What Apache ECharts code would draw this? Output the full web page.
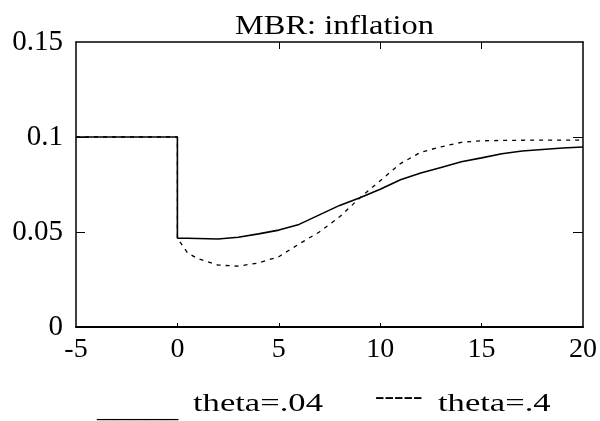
<!DOCTYPE html>
<html>
<head>
<meta charset="utf-8">
<script src="https://cdn.jsdelivr.net/npm/echarts@6/dist/echarts.min.js"></script>
<style>
  html, body { margin: 0; padding: 0; background: #fff; }
  #chart { width: 600px; height: 421px; }
</style>
</head>
<body>
<div id="chart"></div>
<script>
// Time axis (quarters after the policy change); 0 appears twice for the jump
const periods = [-5, -4, -3, -2, -1, 0, 0, 0.5, 1, 2, 3, 4, 5, 6, 7, 8, 9, 10, 11, 12, 13, 14, 15, 16, 17, 18, 19, 20];

// Inflation path, theta = .04
const inflationLow = [0.1, 0.1, 0.1, 0.1, 0.1, 0.1, 0.0468, 0.0467, 0.0466, 0.0463, 0.0472, 0.049, 0.051, 0.054, 0.059, 0.064, 0.068, 0.0725, 0.0775, 0.081, 0.084, 0.087, 0.089, 0.0912, 0.0926, 0.0934, 0.0942, 0.0947];

// Inflation path, theta = .4
const inflationHigh = [0.1, 0.1, 0.1, 0.1, 0.1, 0.1, 0.0468, 0.039, 0.036, 0.0326, 0.032, 0.0337, 0.037, 0.0437, 0.050, 0.058, 0.068, 0.077, 0.086, 0.092, 0.0948, 0.0972, 0.0980, 0.0982, 0.0983, 0.0984, 0.0984, 0.0984];

const xTicks = { min: -5, max: 20, step: 5 };
const yTicks = { min: 0, max: 0.15, step: 0.05 };
// Inner tick marks on the frame (corners carry none)
const innerXTicks = [0, 5, 10, 15];
const innerYTicks = [0.05, 0.1];

const titleText = 'MBR: inflation';
const legendLow = 'theta=.04';
const legendHigh = 'theta=.4';

const serif = '"Liberation Serif", "Times New Roman", serif';

const pairs = (ys) => periods.map((t, i) => [t, ys[i]]);

const chart = echarts.init(document.getElementById('chart'), null, { renderer: 'canvas' });

const frameLine = { show: true, onZero: false, lineStyle: { color: '#000', width: 1.5 } };

chart.setOption({
  backgroundColor: '#fff',
  animation: false,
  grid: { left: 76, right: 16, top: 42, bottom: 94, containLabel: false },
  xAxis: [
    {
      type: 'value', position: 'bottom',
      min: xTicks.min, max: xTicks.max, interval: xTicks.step,
      axisLine: { show: true, onZero: false, lineStyle: { color: '#000', width: 2 } },
      axisTick: { show: true, inside: true, length: 4, customValues: innerXTicks, lineStyle: { color: '#000' } },
      axisLabel: { color: '#000', fontFamily: serif, fontSize: 28, margin: 9 },
      splitLine: { show: false }
    },
    {
      type: 'value', position: 'top',
      min: xTicks.min, max: xTicks.max, interval: xTicks.step,
      axisLine: frameLine,
      axisTick: { show: true, inside: true, length: 7, customValues: innerXTicks.slice(1), lineStyle: { color: '#000' } },
      axisLabel: { show: false },
      splitLine: { show: false }
    }
  ],
  yAxis: [
    {
      type: 'value', position: 'left',
      min: yTicks.min, max: yTicks.max, interval: yTicks.step,
      axisLine: frameLine,
      axisTick: { show: true, inside: true, length: 9, customValues: innerYTicks, lineStyle: { color: '#000' } },
      axisLabel: { color: '#000', fontFamily: serif, fontSize: 29, margin: 13 },
      splitLine: { show: false }
    },
    {
      type: 'value', position: 'right',
      min: yTicks.min, max: yTicks.max, interval: yTicks.step,
      axisLine: frameLine,
      axisTick: { show: true, inside: true, length: 10, customValues: innerYTicks, lineStyle: { color: '#000' } },
      axisLabel: { show: false },
      splitLine: { show: false }
    }
  ],
  series: [
    {
      name: legendLow, type: 'line', data: pairs(inflationLow),
      xAxisIndex: 0, yAxisIndex: 0,
      showSymbol: false, smooth: false,
      lineStyle: { color: '#000', width: 1.6, type: 'solid' },
      z: 3
    },
    {
      name: legendHigh, type: 'line', data: pairs(inflationHigh),
      xAxisIndex: 0, yAxisIndex: 0,
      showSymbol: false, smooth: false,
      lineStyle: { color: '#000', width: 1.3, type: [4, 5] },
      z: 2
    }
  ],
  graphic: [
    {
      type: 'text', x: 235, y: 27, scaleX: 1.2,
      style: { text: titleText, fill: '#000', font: '27px ' + serif, textAlign: 'left', textVerticalAlign: 'middle' }
    },
    {
      type: 'text', x: 97, y: 410, scaleX: 1.25,
      style: { text: '_____', fill: '#000', font: '26px ' + serif, textAlign: 'left', textVerticalAlign: 'middle' }
    },
    {
      type: 'text', x: 193, y: 404, scaleX: 1.33,
      style: { text: legendLow, fill: '#000', font: '26px ' + serif, textAlign: 'left', textVerticalAlign: 'middle' }
    },
    {
      type: 'text', x: 375, y: 397, scaleX: 1.1,
      style: { text: '-----', fill: '#000', font: '26px ' + serif, textAlign: 'left', textVerticalAlign: 'middle' }
    },
    {
      type: 'text', x: 438, y: 404, scaleX: 1.33,
      style: { text: legendHigh, fill: '#000', font: '26px ' + serif, textAlign: 'left', textVerticalAlign: 'middle' }
    }
  ]
});
</script>
</body>
</html>
